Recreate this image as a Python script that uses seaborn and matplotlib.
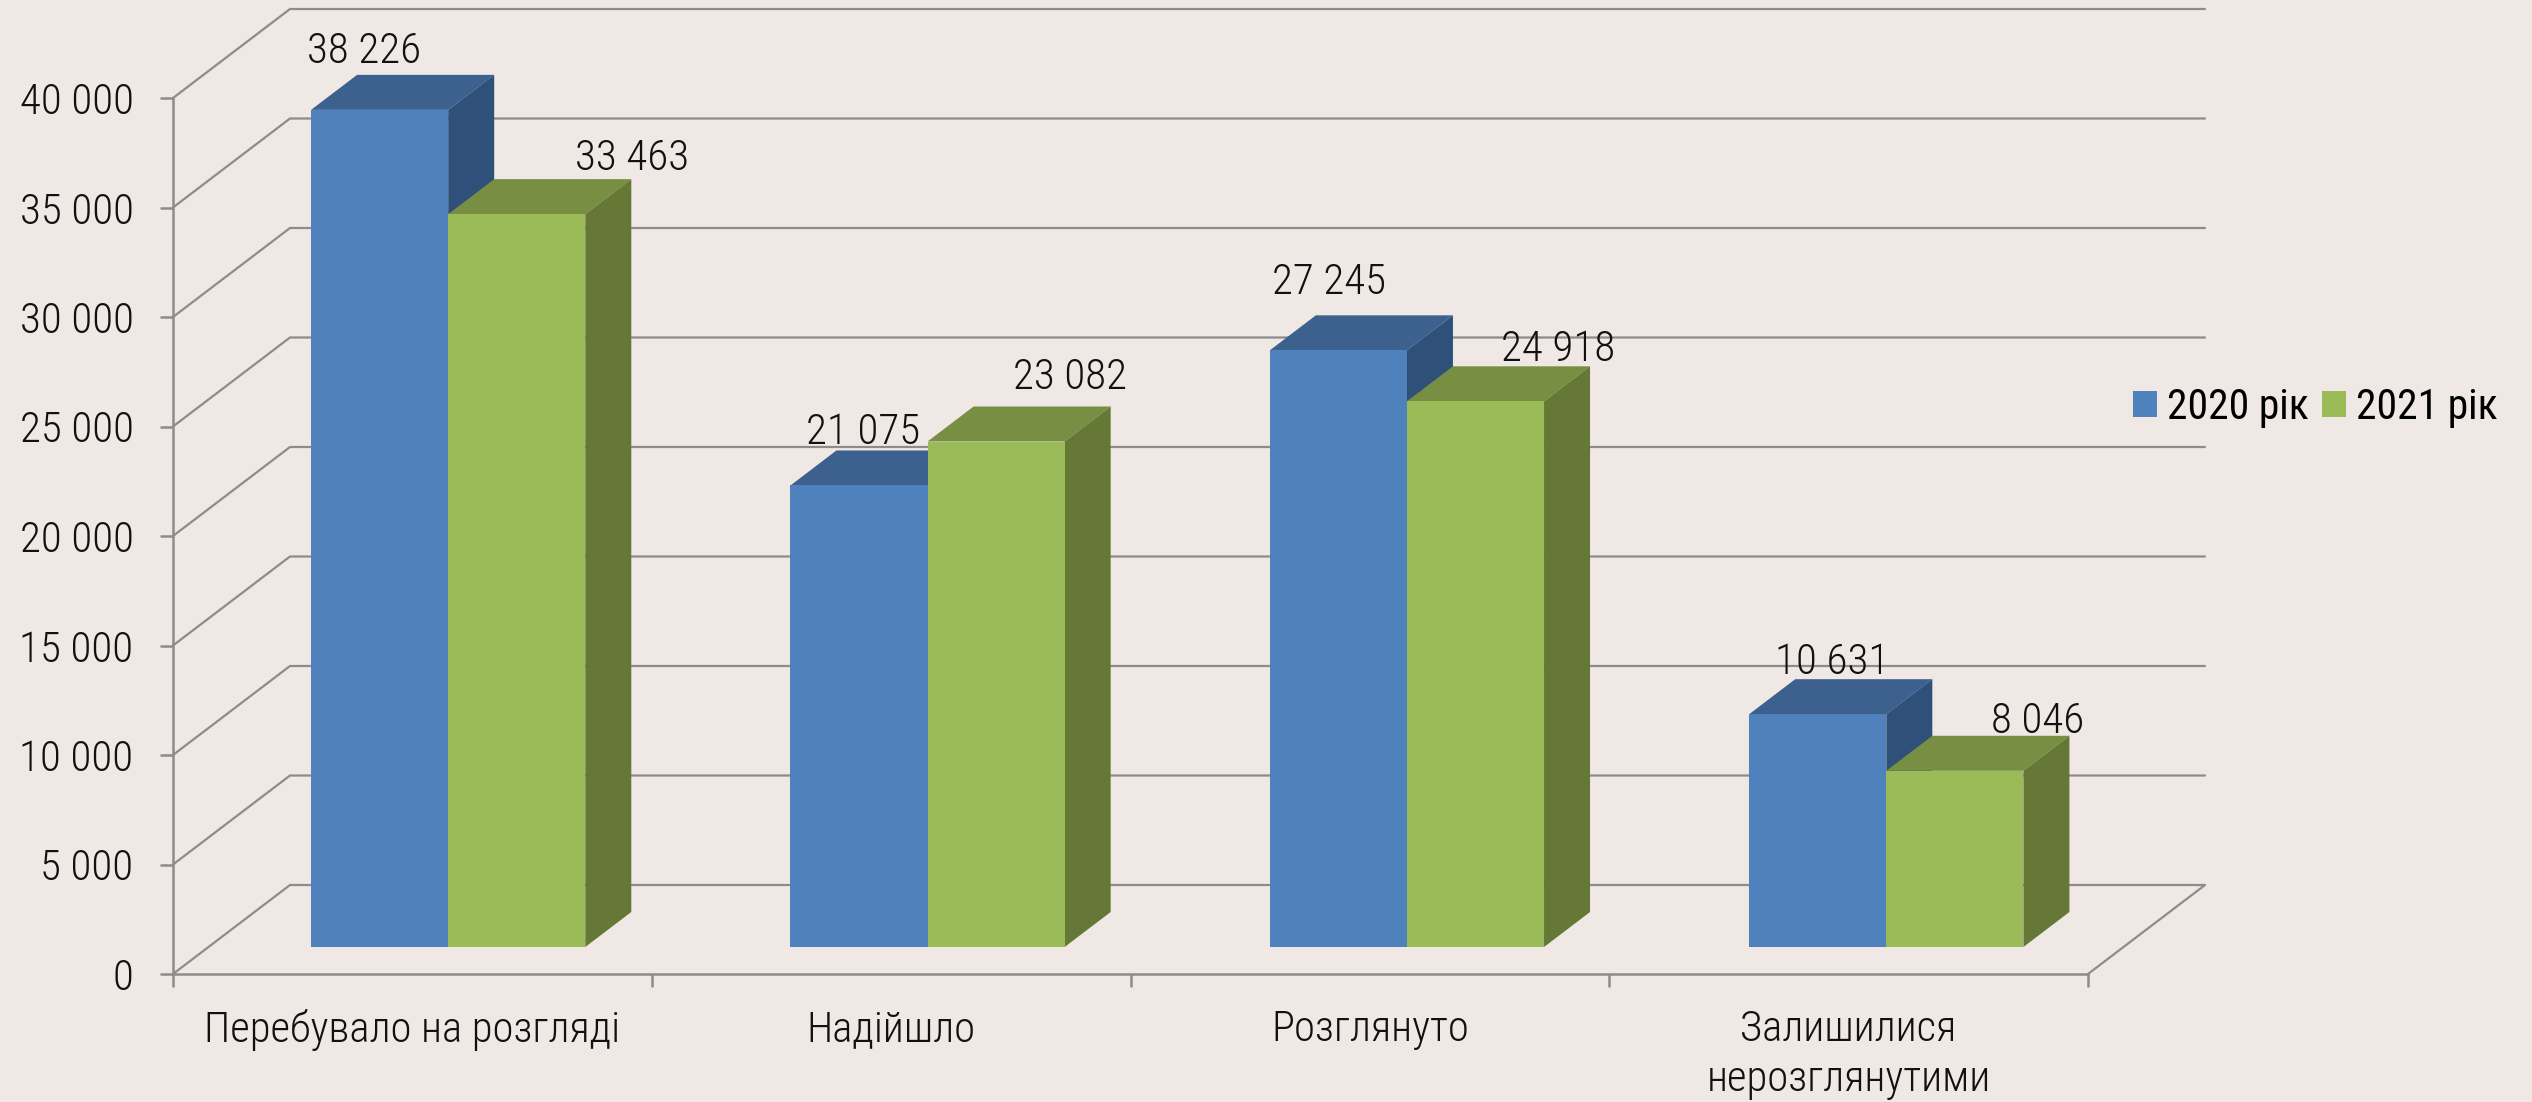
import pandas as pd, numpy as np
import matplotlib
matplotlib.use("Agg")
import matplotlib.pyplot as plt
from matplotlib.patches import Polygon
import seaborn as sns

categories = ["Перебувало на розгляді", "Надійшло", "Розглянуто", "Залишилися\nнерозглянутими"]
years = ["2020 рік", "2021 рік"]
values_2020 = [38226, 21075, 27245, 10631]
values_2021 = [33463, 23082, 24918, 8046]
y_ticks = [0, 5000, 10000, 15000, 20000, 25000, 30000, 35000, 40000]
y_tick_labels = ["0", "5 000", "10 000", "15 000", "20 000", "25 000", "30 000", "35 000", "40 000"]
value_labels = [["38 226", "21 075", "27 245", "10 631"], ["33 463", "23 082", "24 918", "8 046"]]

# label offsets from the top centre of each bar front, in pixels (Excel placed them unevenly)
label_offsets = [[(-16, 58), (4, 53), (-9, 68), (14, 52)], [(115, 56), (74, 64), (83, 52), (83, 49)]]

W, H = 2532, 1102
BG = "#EFE8E5"
GRID = "#8C8C8C"
FACE = {"2020 рік": "#4F81BD", "2021 рік": "#9BBB59"}
TOP = {"2020 рік": "#3C618F", "2021 рік": "#778E43"}
SIDE = {"2020 рік": "#2F5078", "2021 рік": "#657835"}
FONT = ["Roboto Condensed", "Fira Sans Extra Condensed", "DejaVu Sans"]

df = pd.DataFrame({"category": categories, years[0]: values_2020, years[1]: values_2021})
df = df.melt(id_vars="category", var_name="year", value_name="value")

sns.set_theme(style="white", rc={"figure.facecolor": BG, "axes.facecolor": "none", "savefig.facecolor": BG})
plt.rcParams["font.family"] = FONT
plt.rcParams["font.weight"] = 300

fig = plt.figure(figsize=(W / 100, H / 100), dpi=100)

def px_axes(left, right, top, bottom):
    return fig.add_axes([left / W, 1 - bottom / H, (right - left) / W, (bottom - top) / H])

# frame axes = front plane of the 3D box, bar axes = plane of the bar fronts
ax = px_axes(173, 2088, 98, 974)
ax_bars = px_axes(208.5, 2126, 71, 947)

ax.set_xlim(0, 4); ax.set_ylim(0, 40000)
ax.set_yticks(y_ticks); ax.set_yticklabels(y_tick_labels, fontsize=31, color="#111111")
ax.set_xticks(range(5)); ax.set_xticklabels([])
ax.tick_params(axis="both", length=9.4, width=1.8, color=GRID, pad=19, left=True, bottom=True)
sns.despine(ax=ax)
for s in ["left", "bottom"]:
    ax.spines[s].set_color(GRID); ax.spines[s].set_linewidth(1.8)

# walls: slanted and back lines
back_dx = 117 * 4 / 1915
back_dy = 89 * 40000 / 876
for v in y_ticks:
    ax.plot([0, back_dx, 4 + back_dx], [v, v + back_dy, v + back_dy], color=GRID, lw=1.6, clip_on=False,
            solid_joinstyle="miter")
ax.plot([4, 4 + back_dx], [0, back_dy], color=GRID, lw=1.6, clip_on=False)

for i, name in enumerate(categories):
    ax.text(i + 0.5, -35 * 40000 / 876, name, ha="center", va="top", fontsize=30.7, color="#111111",
            linespacing=1.27)

sns.barplot(data=df, x="category", y="value", hue="year", hue_order=years, palette=FACE,
            width=0.572, gap=0, dodge=True, saturation=1, ax=ax_bars, legend=False, edgecolor="none", linewidth=0)
ax_bars.set_xlim(-0.5, 3.5); ax_bars.set_ylim(0, 40000)
ax_bars.axis("off")

# extrude every bar from its own geometry
depth_x = 46 * 4 / 1917.5
depth_y = 35 * 40000 / 876
for j, (year, cont) in enumerate(zip(years, ax_bars.containers)):
    for i, bar in enumerate(cont):
        x0, x1, h = bar.get_x(), bar.get_x() + bar.get_width(), bar.get_height()
        bar.set_zorder(3 + j * 2)
        z = 2 + j * 2
        ax_bars.add_patch(Polygon([(x0, h), (x1, h), (x1 + depth_x, h + depth_y), (x0 + depth_x, h + depth_y)],
                                  fc=TOP[year], ec="none", clip_on=False, zorder=z))
        ax_bars.add_patch(Polygon([(x1, 0), (x1 + depth_x, depth_y), (x1 + depth_x, h + depth_y), (x1, h)],
                                  fc=SIDE[year], ec="none", clip_on=False, zorder=z))
        ax_bars.annotate(value_labels[j][i], (bar.get_x() + bar.get_width() / 2, h),
                         xytext=label_offsets[j][i], textcoords="offset pixels",
                         ha="center", va="center", fontsize=31, color="#111111", zorder=10, annotation_clip=False)

handles = [plt.Rectangle((0, 0), 1, 1, fc=FACE[y], ec="none") for y in years]
fig.legend(handles, years, loc="center left", bbox_to_anchor=(2133 / W, 1 - 407 / H), bbox_transform=fig.transFigure,
           ncol=2, frameon=False, borderpad=0, borderaxespad=0, handlelength=0.576, handleheight=0.576,
           handletextpad=0.24, columnspacing=0.31, labelcolor="black", prop={"family": FONT, "size": 30, "weight": 400})

plt.savefig("out.png", dpi=100)
plt.close()
